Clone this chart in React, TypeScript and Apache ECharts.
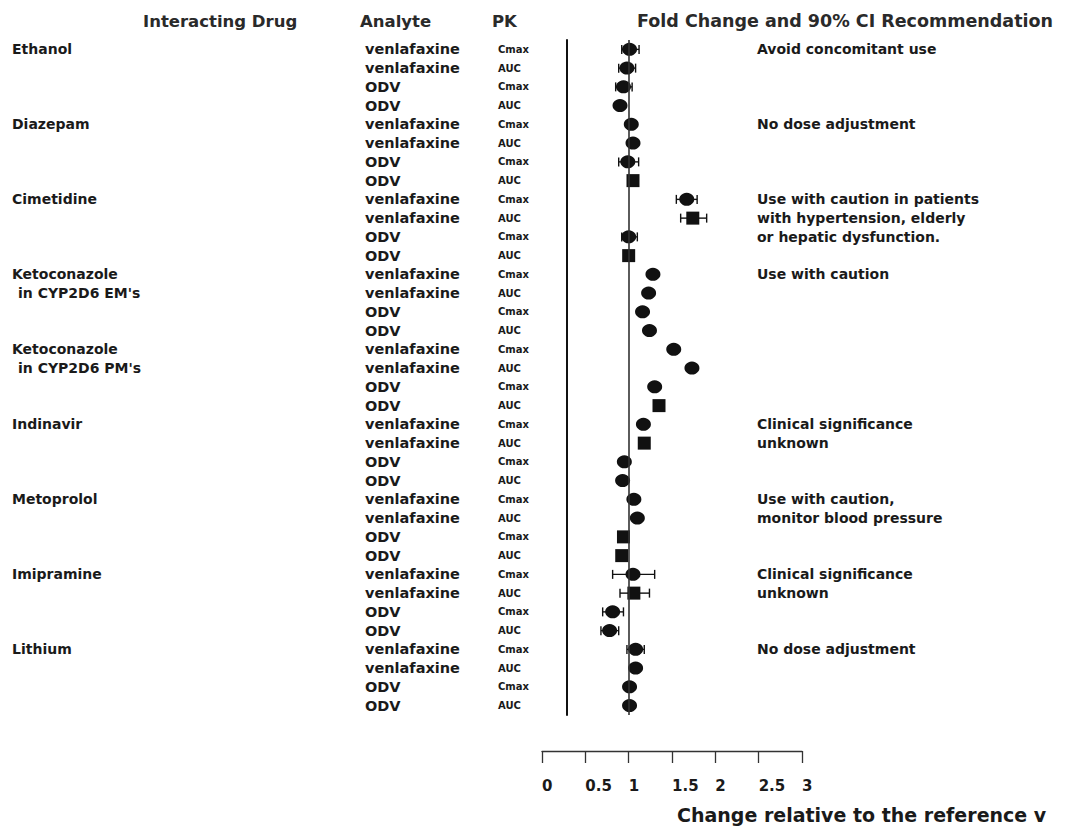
import React, { useEffect, useRef } from "react";
import * as echarts from "echarts";

// ---------- data ----------
const DRUG_LINES: string[][] = [
  ["Ethanol"],
  ["Diazepam"],
  ["Cimetidine"],
  ["Ketoconazole", "in CYP2D6 EM's"],
  ["Ketoconazole", "in CYP2D6 PM's"],
  ["Indinavir"],
  ["Metoprolol"],
  ["Imipramine"],
  ["Lithium"],
];
const ANALYTES = ["venlafaxine", "venlafaxine", "ODV", "ODV"];
const PK_PARAMS = ["Cmax", "AUC", "Cmax", "AUC"];
const RECOMMENDATIONS: string[][] = [
  ["Avoid concomitant use"],
  ["No dose adjustment"],
  ["Use with caution in patients", "with hypertension, elderly", "or hepatic dysfunction."],
  ["Use with caution"],
  [],
  ["Clinical significance", "unknown"],
  ["Use with caution,", "monitor blood pressure"],
  ["Clinical significance", "unknown"],
  ["No dose adjustment"],
];

const FOLD_CHANGE = [
  1.01, 0.98, 0.94, 0.9,
  1.03, 1.05, 0.99, 1.05,
  1.67, 1.74, 1.0, 1.0,
  1.28, 1.23, 1.16, 1.24,
  1.52, 1.73, 1.3, 1.35,
  1.17, 1.18, 0.95, 0.93,
  1.06, 1.1, 0.94, 0.92,
  1.05, 1.06, 0.815, 0.78,
  1.08, 1.08, 1.01, 1.01,
];
const CI_LOW: (number | null)[] = [
  0.92, 0.885, 0.85, null,
  null, null, 0.885, null,
  1.55, 1.6, 0.92, null,
  null, null, null, null,
  null, null, null, null,
  null, null, null, null,
  null, null, null, null,
  0.815, 0.9, 0.7, 0.68,
  0.98, null, null, null,
];
const CI_HIGH: (number | null)[] = [
  1.12, 1.08, 1.04, null,
  null, null, 1.115, null,
  1.79, 1.9, 1.1, null,
  null, null, null, null,
  null, null, null, null,
  null, null, null, null,
  null, null, null, null,
  1.3, 1.24, 0.94, 0.885,
  1.18, null, null, null,
];
// marker shape per row: C = round, S = square
const MARKER_SHAPES = [
  "C", "C", "C", "C",
  "C", "C", "C", "S",
  "C", "S", "C", "S",
  "C", "C", "C", "C",
  "C", "C", "C", "S",
  "C", "S", "C", "C",
  "C", "C", "S", "S",
  "C", "S", "C", "C",
  "C", "C", "C", "C",
];
const X_TICKS = { min: 0, max: 3, interval: 0.5 };
const HEADERS = ["Interacting Drug", "Analyte", "PK", "Fold Change and 90% CI Recommendation"];
const AXIS_NAME = "Change relative to the reference v";

// ---------- build rows ----------
const drugRow: string[] = [];
const drugIndent: boolean[] = [];
const analyteRow: string[] = [];
const pkRow: string[] = [];
const recRow: string[] = [];
DRUG_LINES.forEach((lines, d) => {
  for (let k = 0; k < ANALYTES.length; k++) {
    drugRow.push(lines[k] ?? "");
    drugIndent.push(k > 0 && !!lines[k]);
    analyteRow.push(ANALYTES[k]);
    pkRow.push(PK_PARAMS[k]);
    recRow.push(RECOMMENDATIONS[d][k] ?? "");
  }
});
const rowIds = drugRow.map((_, i) => String(i));

const FONT = "DejaVu Sans";
const TXT = "#1a1a1a";

export default function App() {
  const ref = useRef<HTMLDivElement>(null);
  useEffect(() => {
    if (!ref.current) return;
    const chart = echarts.init(ref.current, null, { renderer: "svg" });
    const gridLeft = 542;
    const gridTop = 40;
    const gridHeight = 675;

    const baseY = (extra: any) => ({
      type: "category",
      data: rowIds,
      inverse: true,
      gridIndex: 0,
      position: "left",
      axisTick: { show: false },
      axisLine: { show: false },
      splitLine: { show: false },
      ...extra,
      axisLabel: {
        interval: 0,
        align: "left",
        fontFamily: FONT,
        fontWeight: "bold",
        color: TXT,
        fontSize: 14,
        ...(extra.axisLabel || {}),
      },
    });

    const scatterData = FOLD_CHANGE.map((v, i) => ({
      value: [v, i],
      symbol: MARKER_SHAPES[i] === "S" ? "rect" : "circle",
      symbolSize: MARKER_SHAPES[i] === "S" ? [13, 13] : [15, 13],
    }));
    const ciData = FOLD_CHANGE.map((_, i) => [CI_LOW[i], CI_HIGH[i], i]).filter(
      (d) => d[0] != null && d[1] != null
    );

    chart.setOption({
      animation: false,
      backgroundColor: "#ffffff",
      grid: {
        left: gridLeft,
        top: gridTop,
        width: 260,
        height: gridHeight,
        containLabel: false,
        outerBoundsMode: "none",
      },
      xAxis: {
        type: "value",
        min: X_TICKS.min,
        max: X_TICKS.max,
        interval: X_TICKS.interval,
        position: "bottom",
        offset: 36,
        splitLine: { show: false },
        axisLine: { show: true, lineStyle: { color: "#333", width: 1.3 } },
        axisTick: { show: true, length: 12, lineStyle: { color: "#333", width: 1.3 } },
        axisLabel: {
          align: "left",
          margin: 27,
          fontFamily: FONT,
          fontWeight: "bold",
          fontSize: 15,
          color: TXT,
        },
        name: AXIS_NAME,
        nameLocation: "middle",
        nameGap: 54,
        nameTextStyle: {
          align: "left",
          padding: [0, 0, 0, 5],
          fontFamily: FONT,
          fontWeight: "bold",
          fontSize: 19,
          color: TXT,
        },
      },
      yAxis: [
        baseY({
          offset: -25,
          axisLine: { show: true, lineStyle: { color: "#111", width: 2 } },
          axisLabel: {
            margin: 555,
            formatter: (_v: string, idx: number) =>
              drugRow[idx] ? (drugIndent[idx] ? `{ind|${drugRow[idx]}}` : drugRow[idx]) : "",
            rich: {
              ind: {
                padding: [0, 0, 0, 6],
                fontFamily: FONT,
                fontWeight: "bold",
                fontSize: 14,
                color: TXT,
              },
            },
          },
        }),
        baseY({
          axisLabel: {
            margin: gridLeft - 365,
            fontSize: 14.5,
            formatter: (_v: string, idx: number) => analyteRow[idx],
          },
        }),
        baseY({
          axisLabel: {
            margin: gridLeft - 498,
            fontSize: 10,
            formatter: (_v: string, idx: number) => pkRow[idx],
          },
        }),
        baseY({
          axisLabel: { margin: gridLeft - 757, formatter: (_v: string, idx: number) => recRow[idx] },
        }),
      ],
      series: [
        {
          type: "custom",
          xAxisIndex: 0,
          yAxisIndex: 0,
          data: ciData,
          encode: { x: [0, 1], y: 2 },
          z: 2,
          renderItem: (_params: any, api: any) => {
            const y = api.value(2);
            const p1 = api.coord([api.value(0), y]);
            const p2 = api.coord([api.value(1), y]);
            const h = 4.5;
            const style = { stroke: "#111", lineWidth: 1.4 };
            return {
              type: "group",
              children: [
                { type: "line", shape: { x1: p1[0], y1: p1[1], x2: p2[0], y2: p2[1] }, style },
                { type: "line", shape: { x1: p1[0], y1: p1[1] - h, x2: p1[0], y2: p1[1] + h }, style },
                { type: "line", shape: { x1: p2[0], y1: p2[1] - h, x2: p2[0], y2: p2[1] + h }, style },
              ],
            };
          },
        },
        {
          type: "scatter",
          xAxisIndex: 0,
          yAxisIndex: 0,
          z: 3,
          data: scatterData,
          itemStyle: { color: "#111111", opacity: 1 },
          markLine: {
            silent: true,
            symbol: "none",
            label: { show: false },
            lineStyle: { color: "#333", width: 1.6, type: "solid" },
            data: [{ xAxis: 1 }],
          },
        },
      ],
      graphic: [
        {
          type: "text",
          x: 143,
          y: 21,
          style: { text: HEADERS[0], fontFamily: FONT, fontWeight: "bold", fontSize: 16.5, fill: "#2a2a2a", verticalAlign: "middle" },
        },
        {
          type: "text",
          x: 360,
          y: 21,
          style: { text: HEADERS[1], fontFamily: FONT, fontWeight: "bold", fontSize: 16.5, fill: "#2a2a2a", verticalAlign: "middle" },
        },
        {
          type: "text",
          x: 492,
          y: 21,
          style: { text: HEADERS[2], fontFamily: FONT, fontWeight: "bold", fontSize: 16.5, fill: "#2a2a2a", verticalAlign: "middle" },
        },
        {
          type: "text",
          x: 637,
          y: 21,
          style: { text: HEADERS[3], fontFamily: FONT, fontWeight: "bold", fontSize: 17.5, fill: "#2a2a2a", verticalAlign: "middle" },
        },
      ],
    });
    return () => chart.dispose();
  }, []);
  return (
    <div
      ref={ref}
      style={{ position: "fixed", left: 0, top: 0, width: 1070, height: 827, background: "#fff" }}
    />
  );
}
